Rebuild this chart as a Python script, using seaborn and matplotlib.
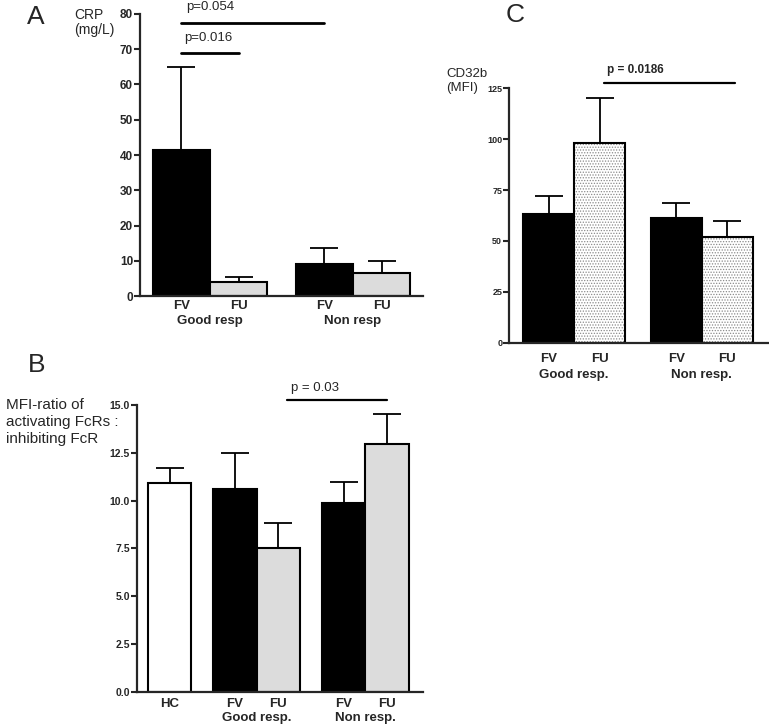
import numpy as np
import pandas as pd
import matplotlib
matplotlib.use('Agg')
import matplotlib.pyplot as plt
import matplotlib.colors as mcolors
import seaborn as sns

# ---- data ----
groups_a = ['Good resp', 'Non resp']
groups_bc = ['Good resp.', 'Non resp.']
times = ['FV', 'FU']

crp_mean = [41.3, 4.0, 9.2, 6.7]          # Good FV, Good FU, Non FV, Non FU
crp_upper = [65.0, 5.6, 13.7, 10.0]

ratio_hc_mean = [10.9]
ratio_hc_upper = [11.7]
ratio_mean = [10.6, 7.5, 9.9, 12.95]
ratio_upper = [12.5, 8.85, 11.0, 14.55]

cd32b_mean = [63.0, 98.0, 61.5, 52.0]
cd32b_upper = [72.0, 120.0, 68.5, 60.0]

ylabel_b = ['MFI-ratio of', 'activating FcRs :', 'inhibiting FcR']

FILL = {'FV': 'black', 'FU': '#dcdcdc', 'HC': 'white', 'DOT': 'white'}

sns.set_theme(style='ticks')
plt.rcParams['font.family'] = ['Liberation Sans', 'DejaVu Sans']
plt.rcParams['hatch.linewidth'] = 0.6


def make_df(groups, means, uppers, fills):
    rows = []
    i = 0
    for g in groups:
        for slot, t in zip(['L', 'R'], times):
            rows.append({'group': g, 'time': t, 'slot': slot, 'value': means[i],
                         'upper': uppers[i], 'fill': fills[t]})
            i += 1
    return pd.DataFrame(rows)


def draw_bars(ax, df, order):
    # one call per fill colour, dodge shared through hue_order
    for fill, sub in df.groupby('fill', sort=False):
        sns.barplot(data=sub, x='group', y='value', hue='slot', order=order,
                    hue_order=['L', 'R'], palette={'L': FILL[fill], 'R': FILL[fill]},
                    dodge=True, edgecolor='black', linewidth=1.5, errorbar=None,
                    legend=False, ax=ax, zorder=2)
    centers = {}
    for p in ax.patches:
        h = p.get_height()
        cx = p.get_x() + p.get_width() / 2
        r = df.iloc[(df['value'] - h).abs().argsort()[:1]].iloc[0]
        centers[(r['group'], r['time'])] = cx
        ax.errorbar(cx, h, yerr=[[0], [r['upper'] - h]], fmt='none', ecolor='black',
                    elinewidth=1.3, capsize=10, capthick=1.3, zorder=1)
        if r['fill'] == 'DOT':
            p.set_hatch('......')
            try:
                p.set_hatchcolor('#8a8a8a')
            except AttributeError:
                p._hatch_color = mcolors.to_rgba('#8a8a8a')
    return centers


def style_axis(ax, ylim, yticks, fmt, tick_fs, bar_labels, group_labels, group_x,
               lab_fs, pad_major, pad_minor):
    ax.set_ylim(*ylim)
    ax.set_yticks(yticks)
    ax.set_yticklabels([fmt.format(v) for v in yticks], fontweight='bold', fontsize=tick_fs)
    for s in ['top', 'right']:
        ax.spines[s].set_visible(False)
    for s in ['left', 'bottom']:
        ax.spines[s].set_linewidth(1.6)
    ax.tick_params(axis='y', length=4, width=1.5, pad=1)
    ax.set_xticks([x for x, _ in bar_labels])
    ax.set_xticklabels([l for _, l in bar_labels], fontweight='bold', fontsize=lab_fs)
    ax.set_xticks(group_x, minor=True)
    ax.set_xticklabels(group_labels, minor=True, fontweight='bold', fontsize=lab_fs)
    ax.tick_params(axis='x', which='major', length=0, pad=pad_major)
    ax.tick_params(axis='x', which='minor', length=0, pad=pad_minor)
    ax.set_xlabel('')
    ax.set_ylabel('')


fig = plt.figure(figsize=(7.69, 7.28), dpi=100)

# ---- panel A ----
axA = fig.add_axes([0.182, 0.593, 0.368, 0.388])
dfA = make_df(groups_a, crp_mean, crp_upper, {'FV': 'FV', 'FU': 'FU'})
cA = draw_bars(axA, dfA, groups_a)
axA.set_xlim(-0.49, 1.49)
style_axis(axA, (0, 80), list(range(0, 81, 10)), '{:.0f}', 8.5,
           [(cA[(g, t)], t) for g in groups_a for t in times], groups_a,
           [0, 1], 9.5, 3, 13.5)
x0, x1, x2 = cA[('Good resp', 'FV')], cA[('Good resp', 'FU')], cA[('Non resp', 'FV')]
axA.plot([x0, x2], [77.5, 77.5], color='black', lw=2, clip_on=False)
axA.text(x0 + 0.03, 80.3, 'p=0.054', fontsize=9.5, va='bottom', ha='left')
axA.plot([x0, x1], [69.0, 69.0], color='black', lw=2, clip_on=False)
axA.text(x0 + 0.02, 71.5, 'p=0.016', fontsize=9.5, va='bottom', ha='left')
fig.text(0.035, 0.993, 'A', fontsize=19, va='top', ha='left')
fig.text(0.097, 0.989, 'CRP\n(mg/L)', fontsize=10, va='top', ha='left', linespacing=1.05)

# ---- panel B ----
axB = fig.add_axes([0.178, 0.0495, 0.372, 0.3942])
dfB = make_df(groups_bc, ratio_mean, ratio_upper, {'FV': 'FV', 'FU': 'FU'})
dfB = pd.concat([pd.DataFrame([{'group': 'HC', 'time': 'HC', 'slot': 'R',
                                'value': ratio_hc_mean[0], 'upper': ratio_hc_upper[0],
                                'fill': 'HC'}]), dfB], ignore_index=True)
order_b = ['HC'] + groups_bc
cB = draw_bars(axB, dfB, order_b)
axB.set_xlim(-0.1, 2.53)
style_axis(axB, (0, 15), [0, 2.5, 5, 7.5, 10, 12.5, 15], '{:.1f}', 7.5,
           [(cB[('HC', 'HC')], 'HC')] + [(cB[(g, t)], t) for g in groups_bc for t in times],
           groups_bc, [1, 2], 9.5, 4, 14.5)
b0, b1 = cB[('Good resp.', 'FU')], cB[('Non resp.', 'FU')]
axB.plot([b0 + 0.08, b1], [15.25, 15.25], color='black', lw=1.6, clip_on=False)
axB.text(b0 + 0.12, 15.55, 'p = 0.03', fontsize=9.5, va='bottom', ha='left')
fig.text(0.036, 0.515, 'B', fontsize=19, va='top', ha='left')
for i, line in enumerate(ylabel_b):
    fig.text(0.008, 0.453 - i * 0.0235, line, fontsize=11, va='top', ha='left')

# ---- panel C ----
axC = fig.add_axes([0.662, 0.529, 0.337, 0.350])
dfC = make_df(groups_bc, cd32b_mean, cd32b_upper, {'FV': 'FV', 'FU': 'DOT'})
cC = draw_bars(axC, dfC, groups_bc)
axC.set_xlim(-0.51, 1.52)
style_axis(axC, (0, 125), [0, 25, 50, 75, 100, 125], '{:.0f}', 6.5,
           [(cC[(g, t)], t) for g in groups_bc for t in times], groups_bc,
           [0, 1], 9.5, 7, 19)
c0, c1 = cC[('Good resp.', 'FU')], cC[('Non resp.', 'FU')]
axC.plot([c0 + 0.03, c1 + 0.06], [127.5, 127.5], color='black', lw=1.6, clip_on=False)
axC.text(c0 + 0.06, 131, 'p = 0.0186', fontsize=8.5, fontweight='bold', va='bottom', ha='left')
fig.text(0.657, 0.996, 'C', fontsize=19, va='top', ha='left')
fig.text(0.580, 0.907, 'CD32b\n(MFI)', fontsize=9.5, va='top', ha='left', linespacing=1.2)

plt.savefig('out.png', dpi=100)
